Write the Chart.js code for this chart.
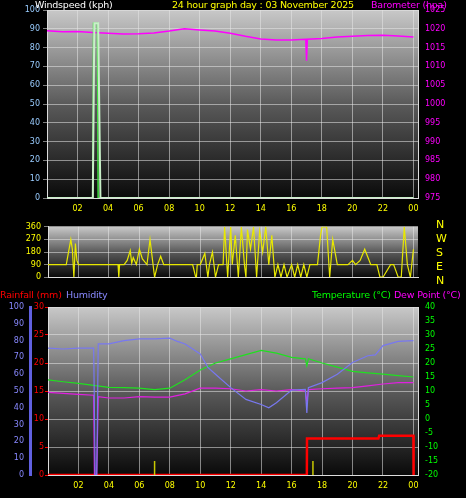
<!DOCTYPE html>
<html><head><meta charset="utf-8">
<script src="https://cdn.jsdelivr.net/npm/chart.js@4/dist/chart.umd.min.js"></script>
<style>
body{margin:0;background:#000;width:466px;height:498px;overflow:hidden;position:relative;font-family:"DejaVu Sans",sans-serif}
canvas{position:absolute;left:0}
.t{position:absolute;font-size:9.5px;white-space:nowrap;line-height:12px;letter-spacing:-0.2px}
</style></head><body>
<canvas id="c1" width="466" height="220" style="top:0"></canvas>
<canvas id="c2" width="466" height="66" style="top:219px"></canvas>
<canvas id="c3" width="466" height="203" style="top:295px"></canvas>
<div class="t" style="left:35px;top:-1px;color:#fff">Windspeed (kph)</div>
<div class="t" style="left:172px;top:-1px;color:#ff0">24 hour graph day : 03 November 2025</div>
<div class="t" style="left:371px;top:-1px;color:#f0f">Barometer (hpa)</div>
<div class="t" style="left:436px;top:218px;color:#ff0;line-height:14px;font-size:11px">N<br>W<br>S<br>E<br>N</div>
<div class="t" style="left:0px;top:289px;color:#f00">Rainfall (mm)</div>
<div class="t" style="left:66px;top:289px;color:#88f">Humidity</div>
<div class="t" style="left:312px;top:289px;color:#0f0">Temperature (°C)</div>
<div class="t" style="left:394px;top:289px;color:#f0f">Dew Point (°C)</div>
<script>
const hourTicks=[2,4,6,8,10,12,14,16,18,20,22,24];
const windHours=[0,2.9,3.0,3.05,3.3,3.35,3.4,24];
const windSpeed=[0,0,0,93,93,0,0,0];
const gustHours=[0,3.0,3.1,3.35,3.5,24];
const gustSpeed=[0,0,93,93,0,0];
const baroHours=[0,1,2,3,4,5,6,7,8,9,10,11,12,13,14,15,16,16.95,17.0,17.05,18,19,20,21,22,23,24];
const baroVals=[1019.5,1019.2,1019.3,1019,1018.8,1018.6,1018.7,1018.9,1019.4,1020,1019.7,1019.4,1018.8,1018,1017.3,1017,1017,1017.2,1011.5,1017.2,1017.4,1017.8,1018,1018.2,1018.3,1018.1,1017.8];
const dirHours=[0,1.2,1.3,1.5,1.6,1.7,1.8,1.9,2.0,2.1,2.2,2.4,3,4,4.6,4.65,4.7,5,5.2,5.4,5.5,5.6,5.8,6,6.2,6.5,6.7,6.9,7.0,7.2,7.4,7.6,7.8,8,8.2,8.5,9,9.5,9.7,9.75,9.8,10,10.3,10.5,10.6,10.8,11,11.2,11.5,11.6,11.8,12,12.1,12.3,12.5,12.7,12.9,13,13.1,13.3,13.5,13.7,13.9,14.1,14.3,14.5,14.7,14.9,15.1,15.3,15.5,15.7,16,16.2,16.4,16.6,16.8,17,17.2,17.5,17.7,17.9,18,18.3,18.5,18.7,19,19.5,19.7,20,20.2,20.5,20.8,21.2,21.3,21.6,21.8,22,22.5,22.7,23,23.2,23.4,23.6,23.8,24];
const dirVals=[90,90,150,270,200,0,240,120,90,90,90,90,90,90,90,0,90,90,120,190,100,140,90,200,130,90,270,90,0,90,150,90,90,90,90,90,90,90,0,0,90,90,170,0,90,180,0,90,90,360,0,360,90,300,0,360,90,0,340,200,360,0,330,180,360,90,300,0,90,0,90,0,90,0,90,0,90,0,90,90,90,300,360,360,0,270,90,90,90,120,90,120,200,90,90,90,0,0,90,90,0,0,360,90,0,200,90];
const humHours=[0,1,2,3.0,3.1,3.2,3.3,4,5,6,7,8,8.5,9,10,10.5,11,12,13,14,14.5,15,16,16.9,17.0,17.1,18,19,20,21,21.5,22,23,24];
const humVals=[75.5,75,75.5,75.5,0,0,78,78,80,81,81,81.5,79.5,78,72,64,60,52,45,42,40,43,50.5,51,37,52,55,60,67,71,71.5,77,79.5,80];
const tempHours=[0,1,2,3,4,5,6,7,8,9,10,11,12,13,14,15,16,16.9,17.0,17.1,18,19,20,21,22,23,24];
const tempVals=[14,13.3,12.7,12,11.3,11.2,11,10.5,11,14,17.5,20,21.5,23,24.5,23.5,22,21.5,19,21.5,20,18.5,17,16.5,16,15.5,15];
const dewHours=[0,2,3,3.05,3.2,3.3,4,5,6,7,8,9,10,11,12,13,14,15,16,16.9,17.0,17.1,18,19,20,21,22,23,24];
const dewVals=[9.5,8.8,8.5,-20,-20,8,7.5,7.5,8,7.8,7.8,9,11,11,10.8,10,10.5,10,10.5,10,6,10.5,10.8,11,11.2,11.8,12.5,13,13];
const rainHours=[0,17.0,17.01,21.7,21.75,24,24.01];
const rainVals=[0,0,6.5,6.5,7,7,0];
const flashHours=[7,7,null,17.4,17.4];
const flashVals=[0,2.5,null,0,2.5];

const pts=(xs,ys)=>xs.map((x,i)=>({x:x,y:ys[i]}));
const bg={id:'bg',beforeDraw(c){const a=c.chartArea,ctx=c.ctx;const g=ctx.createLinearGradient(0,a.top,0,a.bottom);g.addColorStop(0,'#c8c8c8');g.addColorStop(0.5,'#5a5a5a');g.addColorStop(1,'#0a0a0a');ctx.fillStyle=g;ctx.fillRect(a.left,a.top,a.right-a.left,a.bottom-a.top);}};
const F={family:'DejaVu Sans',size:8};
const fit=w=>function(s){s.width=w;};
const plain=v=>String(v);
const grid={color:'rgba(230,230,230,0.55)',tickColor:'rgba(230,230,230,0.55)',tickLength:4};
function xAxis(show,h){return {type:'linear',min:0,max:24.3,afterFit:s=>{s.height=h;},grid:{color:'rgba(230,230,230,0.55)',drawTicks:false},border:{color:'#ddd'},
 afterBuildTicks:s=>{s.ticks=hourTicks.map(v=>({value:v}));},
 ticks:{display:show,color:'#ff0',font:F,padding:6,callback:v=>String(v%24).padStart(2,'0')}};}
const common={responsive:false,animation:false,plugins:{legend:{display:false},tooltip:{enabled:false}},elements:{point:{radius:0},line:{borderWidth:1.2,tension:0}}};

new Chart(document.getElementById('c1'),{type:'line',plugins:[bg],
 data:{datasets:[
  {data:pts(gustHours,gustSpeed),borderColor:'#c8f0c8',borderWidth:2,yAxisID:'y'},
  {data:pts(windHours,windSpeed),borderColor:'#40e040',borderWidth:1.5,yAxisID:'y'},
  {data:pts(baroHours,baroVals),borderColor:'#ff00ff',borderWidth:1.5,yAxisID:'y1'}]},
 options:{...common,layout:{padding:{top:10}},scales:{
  x:xAxis(true,22),
  y:{position:'left',min:0,max:100,afterFit:fit(47),border:{color:'#ddd'},grid:grid,ticks:{stepSize:10,color:'#9cf',font:F,callback:plain}},
  y1:{position:'right',min:975,max:1025,afterFit:fit(48),border:{color:'#ddd'},grid:{display:false,tickColor:'#f0f',tickLength:4},ticks:{stepSize:5,color:'#f0f',font:F,callback:plain}}}}});

new Chart(document.getElementById('c2'),{type:'line',plugins:[bg],
 data:{datasets:[{data:pts(dirHours,dirVals),borderColor:'#e8e800',borderWidth:1.2}]},
 options:{...common,layout:{padding:{top:3,right:48,bottom:3}},scales:{
  x:xAxis(false,0),
  y:{min:0,max:360,afterFit:fit(48),border:{color:'#ddd'},grid:grid,afterBuildTicks:s=>{s.ticks=[0,90,180,270,360].map(v=>({value:v}));},ticks:{color:'#ff0',font:F,callback:plain}}}}});

new Chart(document.getElementById('c3'),{type:'line',plugins:[bg],
 data:{datasets:[
  {data:pts(flashHours,flashVals),borderColor:'#c8c800',borderWidth:1.5,yAxisID:'rain',spanGaps:false},
  {data:pts(humHours,humVals),borderColor:'#7878f0',yAxisID:'hum'},
  {data:pts(tempHours,tempVals),borderColor:'#20e020',yAxisID:'temp'},
  {data:pts(dewHours,dewVals),borderColor:'#e020e0',yAxisID:'temp'},
  {data:pts(rainHours,rainVals),borderColor:'#ff0000',borderWidth:2.5,yAxisID:'rain'}]},
 options:{...common,layout:{padding:{top:12}},scales:{
  x:xAxis(true,23),
  rain:{type:'linear',position:'left',min:0,max:30,afterFit:fit(18),border:{color:'#ddd'},grid:{color:'rgba(230,230,230,0.55)',tickColor:'#f00',tickLength:3},ticks:{stepSize:5,color:'#f00',font:F,padding:1,callback:plain}},
  hum:{type:'linear',position:'left',min:0,max:100,afterFit:fit(30),border:{color:'#6060e0',width:3},grid:{display:false,tickColor:'#88f',tickLength:3},ticks:{stepSize:10,color:'#88f',font:F,callback:plain}},
  temp:{type:'linear',position:'right',min:-20,max:40,afterFit:fit(48),border:{color:'#ddd'},grid:{display:false,tickColor:'#0f0',tickLength:4},ticks:{stepSize:5,color:'#0f0',font:F,callback:plain}}}}});
</script></body></html>
